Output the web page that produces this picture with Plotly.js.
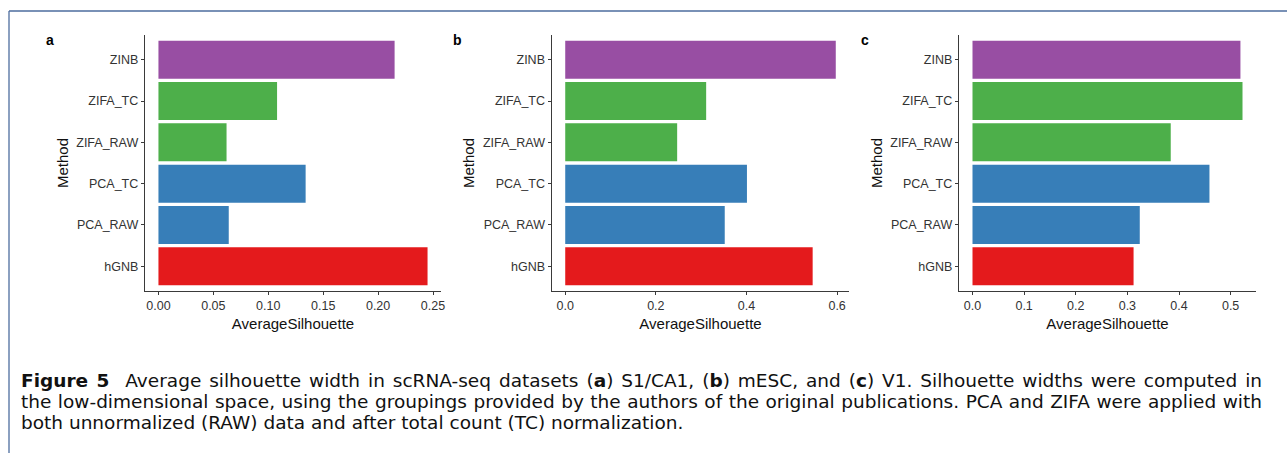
<!DOCTYPE html>
<html>
<head>
<meta charset="utf-8">
<script src="https://cdn.plot.ly/plotly-3.0.1.min.js"></script>
<style>
  html, body { margin: 0; padding: 0; background: #fff; }
  #wrap { position: relative; width: 1287px; height: 453px; overflow: hidden; }
  #chart { position: absolute; left: 0; top: 0; width: 1287px; height: 453px; }
  #caption { position: absolute; left: 21px; top: 370px; width: 1241px;
             font-family: "DejaVu Sans", sans-serif; font-size: 18.5px; color: #111; }
  #caption div { line-height: 21px; white-space: nowrap; }
  #caption .j { text-align: justify; text-align-last: justify; }
</style>
</head>
<body>
<div id="wrap">
  <div id="chart"></div>
  <div id="caption">
    <div class="j"><b>Figure 5</b>&nbsp; Average silhouette width in scRNA-seq datasets (<b>a</b>) S1/CA1, (<b>b</b>) mESC, and (<b>c</b>) V1. Silhouette widths were computed in</div>
    <div class="j">the low-dimensional space, using the groupings provided by the authors of the original publications. PCA and ZIFA were applied with</div>
    <div>both unnormalized (RAW) data and after total count (TC) normalization.</div>
  </div>
</div>
<script>
// ---- data ----
const methods = ['hGNB', 'PCA_RAW', 'PCA_TC', 'ZIFA_RAW', 'ZIFA_TC', 'ZINB'];
const methodColors = ['#E41A1C', '#377EB8', '#377EB8', '#4DAF4A', '#4DAF4A', '#984EA3'];
const silhouetteA = [0.245, 0.064, 0.134, 0.062, 0.108, 0.215];   // S1/CA1
const silhouetteB = [0.546, 0.352, 0.401, 0.247, 0.311, 0.597];   // mESC
const silhouetteC = [0.312, 0.324, 0.459, 0.384, 0.523, 0.519];   // V1
const panelLabels = ['a', 'b', 'c'];
const ticksA = [0, 0.05, 0.10, 0.15, 0.20, 0.25];
const ticksB = [0, 0.2, 0.4, 0.6];
const ticksC = [0, 0.1, 0.2, 0.3, 0.4, 0.5];
const xTitle = 'AverageSilhouette';
const yTitle = 'Method';

// ---- layout helpers ----
const W = 1287, H = 453;
const px = v => v / W;
const py = v => 1 - v / H;
const panels = [
  { vals: silhouetteA, ticks: ticksA, fmt: '.2f', x0: 145, x1: 441, lab: 50 },
  { vals: silhouetteB, ticks: ticksB, fmt: '.1f', x0: 551.7, x1: 849.3, lab: 458 },
  { vals: silhouetteC, ticks: ticksC, fmt: '.1f', x0: 959, x1: 1256, lab: 865 }
];
const yTop = 35, yBot = 291;

const traces = [];
const layout = {
  width: W, height: H,
  margin: { l: 0, r: 0, t: 0, b: 0 },
  paper_bgcolor: '#fff', plot_bgcolor: '#fff',
  showlegend: false,
  font: { family: 'Liberation Sans, Arial, sans-serif', color: '#000' },
  annotations: [],
  shapes: [
    { type: 'line', xref: 'paper', yref: 'paper', x0: px(9), x1: 1, y0: py(11), y1: py(11),
      line: { color: '#4d6d9e', width: 1.3 } },
    { type: 'line', xref: 'paper', yref: 'paper', x0: px(9), x1: px(9), y0: py(11), y1: 0,
      line: { color: '#4d6d9e', width: 1.3 } }
  ]
};

panels.forEach((p, i) => {
  const n = i === 0 ? '' : String(i + 1);
  const max = Math.max(...p.vals);
  traces.push({
    type: 'bar', orientation: 'h',
    x: p.vals, y: methods,
    xaxis: 'x' + n, yaxis: 'y' + n,
    marker: { color: methodColors, line: { width: 0 } },
    width: 0.92,
    hoverinfo: 'x+y'
  });
  layout['xaxis' + n] = {
    domain: [px(p.x0), px(p.x1)],
    anchor: 'y' + n,
    range: [-0.05 * max, 1.05 * max],
    tickvals: p.ticks, tickformat: p.fmt,
    showgrid: false, zeroline: false,
    showline: true, linecolor: '#3a3a3a', linewidth: 1.2,
    ticks: 'outside', ticklen: 3, tickwidth: 1, tickcolor: '#3a3a3a',
    tickfont: { size: 12.5, color: '#333' },
    title: { text: xTitle, font: { size: 15, color: '#111' }, standoff: 6 },
    fixedrange: true
  };
  layout['yaxis' + n] = {
    domain: [py(yBot), py(yTop)],
    anchor: 'x' + n,
    type: 'category',
    categoryorder: 'array', categoryarray: methods,
    range: [-0.6, methods.length - 0.4],
    showgrid: false, zeroline: false,
    showline: true, linecolor: '#3a3a3a', linewidth: 1.2,
    ticks: 'outside', ticklen: 3, tickwidth: 1, tickcolor: '#3a3a3a',
    tickfont: { size: 12.5, color: '#333' },
    title: { text: yTitle, font: { size: 15, color: '#111' }, standoff: 4 },
    fixedrange: true
  };
  layout.annotations.push({
    xref: 'paper', yref: 'paper', x: px(p.lab), y: py(40),
    xanchor: 'center', yanchor: 'middle', showarrow: false,
    text: '<b>' + panelLabels[i] + '</b>',
    font: { size: 14, color: '#000' }
  });
});

Plotly.newPlot('chart', traces, layout, { staticPlot: true, displayModeBar: false });
</script>
</body>
</html>
